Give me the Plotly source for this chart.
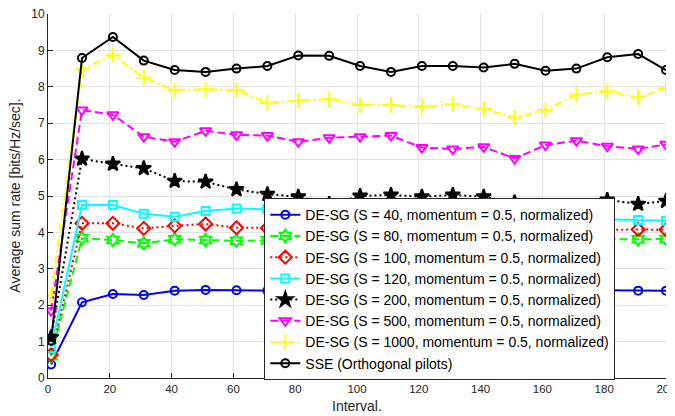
import plotly.graph_objects as go

x_vals = [1, 11, 21, 31, 41, 51, 61, 71, 81, 91, 101, 111, 121, 131, 141, 151, 161, 171, 181, 191, 200]

s40 = [0.37, 2.08, 2.31, 2.28, 2.40, 2.42, 2.41, 2.40, 2.40, 2.41, 2.40, 2.40, 2.41, 2.40, 2.40, 2.41, 2.40, 2.40, 2.41, 2.40, 2.40]
s80 = [0.60, 3.84, 3.79, 3.70, 3.81, 3.79, 3.77, 3.78, 3.80, 3.79, 3.80, 3.79, 3.80, 3.81, 3.80, 3.79, 3.80, 3.81, 3.80, 3.81, 3.82]
s100 = [0.64, 4.25, 4.25, 4.11, 4.18, 4.23, 4.13, 4.12, 4.10, 4.11, 4.10, 4.09, 4.10, 4.08, 4.09, 4.08, 4.07, 4.08, 4.07, 4.08, 4.07]
s120 = [0.82, 4.75, 4.75, 4.51, 4.43, 4.59, 4.66, 4.64, 4.60, 4.58, 4.55, 4.52, 4.50, 4.48, 4.45, 4.42, 4.40, 4.38, 4.36, 4.34, 4.32]
s200 = [1.12, 6.02, 5.88, 5.76, 5.41, 5.39, 5.18, 5.05, 4.98, 4.78, 5.00, 5.03, 4.98, 5.03, 4.98, 4.82, 4.69, 4.69, 4.89, 4.78, 4.86]
s500 = [1.85, 7.36, 7.23, 6.63, 6.49, 6.79, 6.68, 6.66, 6.49, 6.60, 6.63, 6.66, 6.33, 6.29, 6.35, 6.03, 6.40, 6.52, 6.37, 6.29, 6.42]
s1000 = [2.28, 8.48, 8.87, 8.25, 7.91, 7.93, 7.91, 7.56, 7.62, 7.66, 7.50, 7.50, 7.45, 7.52, 7.39, 7.16, 7.36, 7.79, 7.88, 7.71, 7.96]
sse = [1.02, 8.79, 9.37, 8.72, 8.46, 8.41, 8.50, 8.57, 8.86, 8.85, 8.57, 8.41, 8.57, 8.57, 8.53, 8.63, 8.44, 8.50, 8.81, 8.90, 8.46]

names = [
    "DE-SG (S = 40, momentum = 0.5, normalized)",
    "DE-SG (S = 80, momentum = 0.5, normalized)",
    "DE-SG (S = 100, momentum = 0.5, normalized)",
    "DE-SG (S = 120, momentum = 0.5, normalized)",
    "DE-SG (S = 200, momentum = 0.5, normalized)",
    "DE-SG (S = 500, momentum = 0.5, normalized)",
    "DE-SG (S = 1000, momentum = 0.5, normalized)",
    "SSE (Orthogonal pilots)",
]
x_ticks = [0, 20, 40, 60, 80, 100, 120, 140, 160, 180, 200]
y_ticks = [0, 1, 2, 3, 4, 5, 6, 7, 8, 9, 10]
x_title = "Interval."
y_title = "Average sum rate [bits/Hz/sec]."

styles = [
    (s40, "#0000ff", "solid", "circle-open", 8),
    (s80, "#00ff00", "8px,4px", "hexagram-open", 10),
    (s100, "#ff0000", "2px,3px", "diamond-open", 10),
    (s120, "#00ffff", "solid", "square-open", 8),
    (s200, "#000000", "2px,3px", "star", 11),
    (s500, "#ff00ff", "8px,4px", "triangle-down-open", 10),
    (s1000, "#ffff00", "8px,3px,2px,3px", "cross-thin-open", 11),
    (sse, "#000000", "solid", "circle-open", 8),
]

fig = go.Figure()
for (ys, col, dash, sym, size), nm in zip(styles, names):
    fig.add_trace(go.Scatter(
        x=x_vals, y=ys, name=nm, mode="lines+markers",
        line=dict(color=col, width=2, dash=dash),
        marker=dict(symbol=sym, size=size, color=col, line=dict(color=col, width=2)),
    ))

axis_common = dict(
    showline=True, linecolor="#262626", linewidth=1, mirror=False,
    showgrid=True, gridcolor="#e3e3e3", gridwidth=1,
    ticks="inside", ticklen=5, tickcolor="#262626",
    zeroline=False, automargin=False, ticklabeloverflow="allow",
)

# page body has an 8px margin, so the figure is 8px smaller than the window
fig.update_layout(
    width=667, height=408,
    margin=dict(l=40, r=9, t=6, b=38),
    paper_bgcolor="white", plot_bgcolor="white",
    font=dict(family="Liberation Sans, Arial", color="#262626"),
    xaxis=dict(range=[0, 200], tickvals=x_ticks, ticktext=[str(v) for v in x_ticks],
               tickfont=dict(family="Liberation Sans, Arial", size=11.5, color="#262626"), **axis_common),
    yaxis=dict(range=[0, 10], tickvals=y_ticks, ticktext=[str(v) for v in y_ticks],
               tickfont=dict(family="Liberation Sans, Arial", size=12, color="#262626"), **axis_common),
    legend=dict(
        x=0.35, y=0.494, xanchor="left", yanchor="top",
        bgcolor="white", bordercolor="#262626", borderwidth=1,
        font=dict(family="Liberation Sans, Arial", size=14, color="#000000"),
        itemwidth=30, tracegroupgap=0,
    ),
    showlegend=True,
    annotations=[
        dict(text=x_title, xref="paper", yref="paper", x=0.5, y=-0.077,
             xanchor="center", yanchor="middle", showarrow=False,
             font=dict(family="Liberation Sans, Arial", size=14, color="#262626")),
        dict(text=y_title, xref="paper", yref="paper", x=-0.054, y=0.5, textangle=-90,
             xanchor="center", yanchor="middle", showarrow=False,
             font=dict(family="Liberation Sans, Arial", size=14, color="#262626")),
    ],
)

fig.write_html("out.html")
